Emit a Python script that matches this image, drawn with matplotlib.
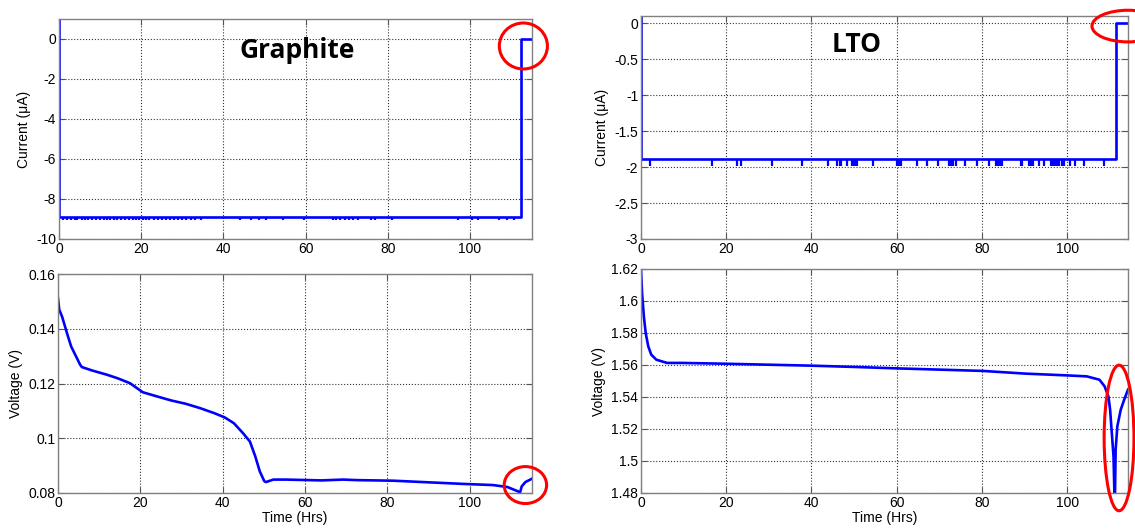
import matplotlib
matplotlib.use("Agg")
import matplotlib.pyplot as plt
from matplotlib.patches import Ellipse
from matplotlib.ticker import FormatStrFormatter

plt.rcParams['font.family'] = ['Liberation Sans', 'DejaVu Sans']
plt.rcParams['axes.unicode_minus'] = False

# Graphite current (uA) vs time (hrs)
gr_i_t = [0, 0, 112.4, 112.4, 115.2]
gr_i = [1.0, -8.92, -8.92, 0.0, 0.0]
gr_i_base = -8.92
gr_i_spike = -9.04
gr_spike_t = [1, 2, 3, 3.8, 4.5, 5.5, 6.3, 7, 8, 9, 10, 11, 11.8, 12.5, 13.5, 14.2,
              15, 16, 17, 18, 18.7, 19.5, 20.5, 21.2, 22, 23, 24, 25, 26, 27, 28,
              29, 30, 31, 32, 33, 34.5, 44, 46.6, 48.6, 50.3, 54.4, 59.6, 66.6,
              67.5, 68.5, 69.5, 70.5, 71.5, 72.7, 76, 77, 81, 97, 100.4, 102, 107,
              109, 110.6]

# Graphite voltage (V)
gr_v_t = [0, 0.3, 1.0, 2.3, 3.2, 5.4, 5.8, 8.4, 11.9, 14.5, 17.5, 18.8, 20.6, 24,
          27.5, 31, 34.5, 37.9, 40.5, 42.7, 44.9, 46.6, 47.9, 49.0, 50.1, 50.5,
          52.3, 55.3, 64, 69.2, 72.7, 81.3, 90, 98.7, 105.6, 109.1, 111.7, 112.2,
          112.6, 113.5, 115.2]
gr_v = [0.1511, 0.1470, 0.1444, 0.1378, 0.1335, 0.1268, 0.1260, 0.1247, 0.1232,
        0.1219, 0.1201, 0.1187, 0.1168, 0.1153, 0.1138, 0.1126, 0.1110, 0.1092,
        0.1076, 0.1055, 0.1019, 0.0988, 0.0934, 0.0879, 0.0843, 0.0840, 0.0849,
        0.0849, 0.0846, 0.0849, 0.0847, 0.0845, 0.0839, 0.0833, 0.0829, 0.0822,
        0.0806, 0.0802, 0.0824, 0.0840, 0.0853]

# LTO current (uA)
lto_i_t = [0, 0, 111.4, 111.4, 114.3]
lto_i = [0.1, -1.89, -1.89, 0.0, 0.0]
lto_i_base = -1.89
lto_i_spike = -1.99
lto_spike_t = [2.2, 16.7, 22.6, 23.4, 30.7, 37.9, 44, 46.1, 46.6, 47, 48.4, 49.5,
               50, 50.4, 50.8, 54.4, 60, 60.5, 61, 64.8, 67.2, 69.7, 72.2, 72.8,
               73.3, 73.9, 76, 78.8, 81.6, 83.4, 83.9, 84.3, 84.8, 89.1, 89.5, 91,
               91.5, 92, 93.4, 94.7, 96.2, 96.7, 97.2, 97.7, 98.2, 98.7, 99.2, 100.7,
               101.9, 104, 108.7]

# LTO voltage (V)
lto_v_t = [0, 0.25, 0.67, 1.1, 1.7, 2.4, 3.6, 6.1, 9.5, 19.6, 29.7, 39.8, 49.9, 60,
           70.1, 80.2, 90.3, 100, 104.6, 107.6, 108.8, 109.7, 110.1, 110.5, 110.9,
           111.2, 111.4, 111.8, 112.6, 113.4, 114.3]
lto_v = [1.620, 1.605, 1.5904, 1.580, 1.5717, 1.5665, 1.5633, 1.5613, 1.5613,
         1.5608, 1.5602, 1.5596, 1.5588, 1.5579, 1.5571, 1.5563, 1.5546, 1.5535,
         1.5529, 1.5508, 1.5467, 1.5404, 1.5321, 1.5175, 1.5029, 1.470, 1.5071,
         1.5217, 1.5321, 1.5383, 1.5446]

W, H = 1135, 530
BLUE = '#0000ff'


def px_box(left, top, right, bottom):
    return [left / W, (H - bottom) / H, (right - left) / W, (bottom - top) / H]


def style_axes(ax, xmax, ylim, yticks, fmt):
    ax.set_xlim(0, xmax)
    ax.set_ylim(*ylim)
    ax.set_xticks([0, 20, 40, 60, 80, 100])
    ax.set_yticks(yticks)
    ax.yaxis.set_major_formatter(FormatStrFormatter(fmt))
    ax.grid(True, linestyle=':', color='#333333', linewidth=0.8)
    ax.tick_params(direction='in', length=4, top=True, right=True,
                   labelsize=10, pad=2, color='#555555')
    for s in ax.spines.values():
        s.set_color('#808080')
        s.set_linewidth(1.0)


fig = plt.figure(figsize=(W / 100, H / 100), dpi=100)

ax1 = fig.add_axes(px_box(59, 19, 532, 239))
ax2 = fig.add_axes(px_box(58, 274, 532, 493))
ax3 = fig.add_axes(px_box(641, 16, 1128, 239))
ax4 = fig.add_axes(px_box(641, 269, 1128, 493))

# graphite current
ax1.plot(gr_i_t, gr_i, color=BLUE, lw=1.9)
ax1.vlines(gr_spike_t, gr_i_base, gr_i_spike, color=BLUE, lw=1.6)
style_axes(ax1, 115.1, (-10, 1), [-10, -8, -6, -4, -2, 0], '%g')
ax1.set_ylabel('Current (\u03bcA)', fontsize=10)
ax1.text(58, -0.55, 'Graphite', fontsize=19, fontweight='bold',
         family=['Open Sans', 'DejaVu Sans'], ha='center', va='center')
ax1.add_patch(Ellipse((113, -0.35), 11.7, 2.3, fill=False, edgecolor='red',
                      lw=2.2, clip_on=False, zorder=5))

# graphite voltage
ax2.plot(gr_v_t, gr_v, color=BLUE, lw=1.9)
style_axes(ax2, 115.1, (0.08, 0.16), [0.08, 0.10, 0.12, 0.14, 0.16], '%g')
ax2.set_ylabel('Voltage (V)', fontsize=10)
ax2.set_xlabel('Time (Hrs)', fontsize=10, labelpad=1)
ax2.add_patch(Ellipse((113.5, 0.0829), 10.3, 0.0135, fill=False,
                      edgecolor='red', lw=2.2, clip_on=False, zorder=5))

# LTO current
ax3.plot(lto_i_t, lto_i, color=BLUE, lw=1.9)
ax3.vlines(lto_spike_t, lto_i_base, lto_i_spike, color=BLUE, lw=1.6)
style_axes(ax3, 114.3, (-3, 0.1), [-3, -2.5, -2, -1.5, -1, -0.5, 0], '%g')
ax3.set_ylabel('Current (\u03bcA)', fontsize=10)
ax3.text(50.7, -0.29, 'LTO', fontsize=19, fontweight='bold',
         family=['Open Sans', 'DejaVu Sans'], ha='center', va='center')
ax3.add_patch(Ellipse((114.3, -0.04), 16.9, 0.44, fill=False, edgecolor='red',
                      lw=2.2, clip_on=False, zorder=5))

# LTO voltage
ax4.plot(lto_v_t, lto_v, color=BLUE, lw=1.9)
style_axes(ax4, 114.3, (1.48, 1.62),
           [1.48, 1.50, 1.52, 1.54, 1.56, 1.58, 1.60, 1.62], '%g')
ax4.set_ylabel('Voltage (V)', fontsize=10)
ax4.set_xlabel('Time (Hrs)', fontsize=10, labelpad=1)
ax4.add_patch(Ellipse((112.2, 1.5144), 7.0, 0.091, fill=False, edgecolor='red',
                      lw=2.2, clip_on=False, zorder=5))

fig.savefig('out.png', dpi=100)
